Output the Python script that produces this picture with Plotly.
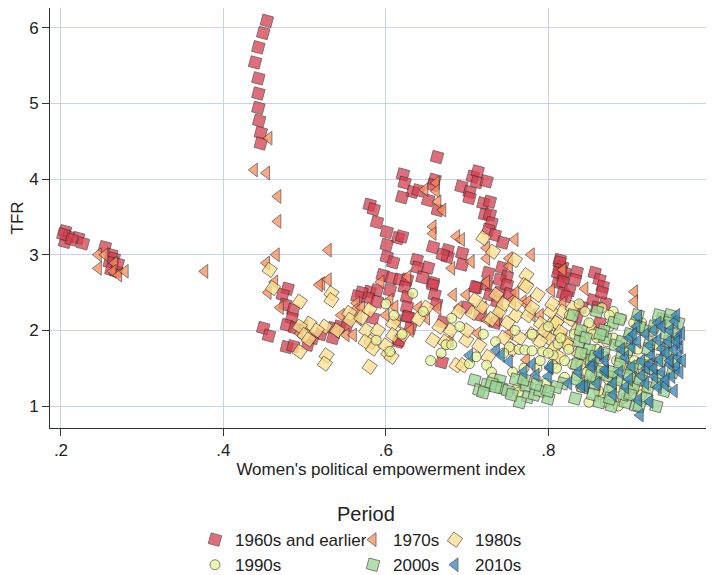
import plotly.graph_objects as go

# ---------------- data ----------------
periods = ["1960s and earlier", "1970s", "1980s", "1990s", "2000s", "2010s"]

x_1960s = [0.205, 0.209, 0.205, 0.221, 0.227, 0.203, 0.213,
           0.254, 0.262, 0.265, 0.260, 0.262, 0.268, 0.270,
           0.4535, 0.449, 0.443, 0.439, 0.443, 0.443, 0.443, 0.444, 0.446, 0.446,
           0.449, 0.456, 0.479, 0.473, 0.476, 0.486, 0.484, 0.478, 0.488, 0.478, 0.486, 0.504,
           0.535, 0.543, 0.552, 0.535, 0.520, 0.510,
           0.580, 0.585, 0.589, 0.601, 0.615, 0.601, 0.601, 0.609, 0.596, 0.607, 0.617,
           0.580, 0.589, 0.578, 0.589, 0.605, 0.626, 0.584, 0.615, 0.570, 0.565,
           0.663, 0.621, 0.623, 0.633, 0.620, 0.660, 0.658, 0.652, 0.664, 0.693, 0.703, 0.703,
           0.707, 0.713, 0.712, 0.724, 0.720, 0.728, 0.722, 0.728, 0.730, 0.726, 0.734, 0.744,
           0.658, 0.676, 0.676, 0.694, 0.694, 0.638, 0.639, 0.652, 0.658, 0.626, 0.620, 0.743,
           0.749, 0.740, 0.726, 0.712, 0.640, 0.670,
           0.623, 0.626, 0.626, 0.627, 0.630, 0.617, 0.658, 0.660, 0.662, 0.670, 0.710, 0.724,
           0.728, 0.740, 0.749, 0.752, 0.737, 0.669, 0.645, 0.700, 0.715, 0.735,
           0.814, 0.817, 0.818, 0.812, 0.814, 0.818, 0.814, 0.812, 0.820, 0.835, 0.818, 0.826,
           0.833, 0.857, 0.863, 0.867, 0.855, 0.870, 0.841, 0.835, 0.863, 0.866, 0.822, 0.860]
y_1960s = [3.31, 3.24, 3.17, 3.22, 3.15, 3.27, 3.20,
           3.10, 3.00, 2.95, 2.90, 2.80, 2.78, 2.88,
           6.09, 5.93, 5.74, 5.54, 5.33, 5.13, 4.94, 4.77, 4.61, 4.47,
           2.03, 1.93, 2.55, 2.47, 2.34, 2.27, 2.16, 2.07, 2.03, 1.78, 1.79, 1.81,
           2.03, 2.05, 2.07, 1.90, 1.95, 1.90,
           3.66, 3.60, 3.43, 3.30, 3.22, 3.13, 2.97, 2.90, 2.73, 2.69, 2.67,
           2.51, 2.53, 2.43, 2.38, 2.53, 2.18, 2.16, 1.85, 2.50, 2.45,
           4.29, 4.06, 3.95, 3.83, 3.76, 3.99, 3.92, 3.72, 3.59, 3.90, 3.83, 3.75,
           4.03, 4.10, 3.96, 3.97, 3.68, 3.70, 3.53, 3.53, 3.42, 3.33, 3.26, 3.16,
           3.10, 3.06, 2.97, 3.02, 2.87, 2.93, 2.83, 2.83, 2.63, 2.67, 3.24, 2.83,
           2.71, 2.67, 2.76, 2.57, 3.85, 3.00,
           2.57, 2.44, 2.31, 2.18, 2.03, 1.87, 2.60, 2.47, 2.35, 2.11, 2.57, 2.60,
           2.47, 2.50, 2.60, 2.48, 2.38, 1.58, 2.70, 2.30, 2.20, 2.10,
           2.93, 2.84, 2.71, 2.63, 2.90, 2.49, 2.80, 2.76, 2.76, 2.77, 2.64, 2.53,
           2.67, 2.76, 2.67, 2.58, 2.40, 2.36, 2.31, 2.18, 2.10, 2.50, 2.45, 2.30]

x_1970s = [0.246, 0.254, 0.246, 0.266, 0.264, 0.271, 0.279, 0.377,
           0.456, 0.438, 0.453, 0.467, 0.467, 0.465, 0.453, 0.463, 0.529, 0.521, 0.529, 0.518,
           0.564, 0.562, 0.566, 0.539, 0.551, 0.560, 0.494, 0.594, 0.605, 0.611, 0.600, 0.614,
           0.455, 0.470, 0.500, 0.545, 0.570,
           0.648, 0.662, 0.662, 0.664, 0.670, 0.658, 0.658, 0.687, 0.693, 0.724, 0.759, 0.779,
           0.752, 0.724, 0.705, 0.681, 0.752, 0.627, 0.724, 0.818,
           0.683, 0.699, 0.664, 0.650, 0.724, 0.736, 0.740, 0.713, 0.679, 0.752, 0.756, 0.769,
           0.775, 0.804, 0.773, 0.818, 0.906, 0.906, 0.830, 0.845, 0.790, 0.640, 0.630, 0.690,
           0.720, 0.780, 0.800, 0.760]
y_1970s = [3.00, 3.00, 2.82, 2.89, 2.78, 2.73, 2.78, 2.78,
           4.54, 4.12, 4.08, 3.77, 3.44, 3.00, 2.89, 2.64, 3.06, 2.62, 2.67, 2.60,
           2.36, 2.27, 2.15, 1.98, 1.94, 1.94, 1.96, 2.64, 2.40, 2.31, 2.20, 2.12,
           2.50, 2.30, 2.05, 2.20, 2.30,
           3.86, 3.95, 3.84, 3.70, 3.59, 3.37, 3.28, 3.24, 3.20, 3.09, 3.20, 3.00,
           2.95, 2.95, 2.91, 2.82, 2.85, 2.71, 2.64, 2.80,
           2.47, 2.47, 2.29, 2.16, 2.14, 2.14, 2.25, 1.96, 1.87, 1.96, 2.40, 2.38,
           2.38, 2.53, 1.61, 2.36, 2.51, 2.38, 2.20, 2.55, 2.20, 2.30, 2.00, 2.30,
           2.30, 2.20, 1.95, 2.50]

x_1980s = [0.457, 0.461, 0.494, 0.533, 0.533, 0.506, 0.494, 0.500, 0.505, 0.494, 0.525, 0.527,
           0.525, 0.555, 0.556, 0.580, 0.570, 0.576, 0.582, 0.575, 0.584, 0.580, 0.609, 0.609,
           0.621, 0.603, 0.607, 0.540, 0.515, 0.590, 0.600,
           0.720, 0.732, 0.759, 0.773, 0.771, 0.666, 0.658, 0.673, 0.687, 0.695, 0.699, 0.707,
           0.718, 0.736, 0.740, 0.726, 0.773, 0.787, 0.791, 0.805, 0.818, 0.814, 0.822, 0.800,
           0.640, 0.650, 0.680, 0.750, 0.760, 0.780, 0.795, 0.810, 0.765, 0.745,
           0.803, 0.810, 0.815, 0.820, 0.827, 0.835, 0.842, 0.806, 0.813, 0.825, 0.838, 0.850,
           0.830, 0.845, 0.860,
           0.700, 0.715, 0.730, 0.745, 0.760, 0.775, 0.790, 0.805, 0.780, 0.755, 0.690, 0.710]
y_1980s = [2.80, 2.56, 2.38, 2.49, 2.40, 2.09, 2.05, 1.94, 1.88, 1.72, 2.05, 1.67,
           1.56, 2.23, 2.14, 2.27, 2.17, 2.00, 1.85, 1.85, 1.76, 1.52, 2.09, 1.94,
           1.94, 1.70, 1.65, 2.00, 2.00, 2.00, 1.80,
           3.22, 3.04, 2.93, 2.73, 2.60, 2.05, 1.87, 1.85, 1.54, 1.54, 1.87, 2.23,
           2.31, 2.47, 2.25, 1.65, 2.58, 2.47, 2.09, 2.09, 2.25, 1.94, 1.83, 1.90,
           2.15, 2.30, 2.00, 2.10, 2.20, 1.95, 2.00, 2.10, 1.90, 2.35,
           2.25, 2.10, 1.98, 1.86, 2.15, 2.00, 1.90, 1.75, 1.65, 1.80, 1.70, 2.05,
           2.30, 1.60, 1.95,
           2.00, 1.80, 2.15, 1.90, 2.35, 2.20, 1.85, 2.35, 2.30, 1.75, 2.25, 2.40]

x_1990s = [0.588, 0.605, 0.633, 0.646, 0.681, 0.691, 0.674, 0.681, 0.711, 0.703, 0.724, 0.730,
           0.732, 0.759, 0.752, 0.764, 0.761, 0.763, 0.771, 0.780, 0.793, 0.806, 0.812, 0.820,
           0.600, 0.610, 0.620, 0.655, 0.668, 0.745, 0.735, 0.720, 0.786, 0.797, 0.805, 0.756,
           0.770,
           0.826, 0.832, 0.838, 0.845, 0.850, 0.855, 0.860, 0.866, 0.870, 0.875, 0.880, 0.886,
           0.890, 0.895, 0.900, 0.905, 0.910, 0.915, 0.920, 0.840, 0.848, 0.858, 0.865, 0.872,
           0.878, 0.884, 0.892, 0.898, 0.905, 0.912, 0.850, 0.862, 0.874, 0.886, 0.896, 0.906,
           0.916, 0.928, 0.935, 0.945, 0.952, 0.830, 0.870, 0.880,
           0.780, 0.790, 0.800, 0.810, 0.815, 0.825, 0.835, 0.845, 0.855, 0.865, 0.875, 0.885,
           0.895, 0.905, 0.915, 0.925, 0.770, 0.785, 0.800, 0.820, 0.840, 0.860, 0.880, 0.900]
y_1990s = [1.87, 1.72, 2.49, 2.25, 2.16, 2.05, 1.81, 1.81, 1.65, 1.56, 1.54, 1.45,
           1.37, 2.00, 1.78, 1.75, 1.23, 1.18, 1.74, 1.73, 1.72, 1.67, 1.82, 1.38,
           2.35, 2.20, 1.95, 1.60, 1.70, 1.70, 1.85, 1.95, 1.50, 1.30, 1.55, 1.45,
           1.30,
           2.20, 1.95, 2.35, 1.70, 2.10, 1.55, 1.90, 2.30, 1.65, 2.05, 1.40, 1.80,
           2.15, 1.50, 1.95, 1.30, 1.75, 2.10, 1.60, 1.25, 1.45, 1.35, 1.15, 1.85,
           1.25, 1.60, 1.10, 1.70, 1.45, 1.20, 1.05, 1.20, 1.35, 1.00, 1.30, 1.60,
           1.40, 2.00, 1.80, 2.15, 1.90, 1.55, 1.05, 2.25,
           1.95, 1.60, 2.05, 1.50, 1.90, 1.75, 1.40, 2.25, 1.95, 1.50, 2.20, 1.25,
           1.85, 2.10, 1.15, 1.55, 1.50, 1.35, 1.70, 1.60, 1.55, 1.75, 1.90, 1.20]

x_2000s = [0.709, 0.715, 0.724, 0.740, 0.742, 0.773, 0.775, 0.783, 0.818, 0.730, 0.750, 0.760,
           0.765, 0.790, 0.800, 0.810,
           0.830, 0.835, 0.840, 0.845, 0.850, 0.855, 0.860, 0.865, 0.870, 0.875, 0.880, 0.885,
           0.890, 0.895, 0.900, 0.905, 0.910, 0.915, 0.920, 0.925, 0.930, 0.935, 0.940, 0.945,
           0.950, 0.955, 0.960, 0.833, 0.843, 0.853, 0.863, 0.873, 0.883, 0.893, 0.903, 0.913,
           0.923, 0.933, 0.943, 0.953, 0.838, 0.858, 0.878, 0.898, 0.918, 0.938, 0.948, 0.868,
           0.888, 0.908,
           0.835, 0.846, 0.857, 0.868, 0.879, 0.890, 0.901, 0.912, 0.923, 0.934, 0.945, 0.956,
           0.840, 0.852, 0.864, 0.876, 0.888, 0.900, 0.912, 0.924, 0.936, 0.948,
           0.720, 0.735, 0.755, 0.770, 0.785, 0.800]
y_2000s = [1.34, 1.21, 1.28, 1.34, 1.24, 1.26, 1.12, 1.15, 1.30, 1.30, 1.20, 1.35,
           1.05, 1.20, 1.10, 1.25,
           2.20, 1.55, 2.00, 1.30, 1.75, 1.15, 2.25, 1.45, 1.90, 1.20, 2.10, 1.35,
           1.65, 1.05, 1.95, 1.25, 2.20, 1.55, 1.10, 1.85, 2.05, 1.40, 2.15, 1.70,
           2.20, 1.95, 2.10, 1.10, 1.25, 1.60, 1.05, 1.40, 1.80, 1.15, 1.50, 1.35,
           1.25, 1.00, 1.20, 1.45, 1.85, 1.30, 1.00, 1.75, 2.00, 1.60, 1.85, 1.70,
           1.55, 1.00,
           1.35, 1.90, 1.65, 2.00, 1.45, 1.85, 1.15, 2.05, 1.75, 1.30, 1.95, 1.60,
           1.70, 1.40, 1.95, 1.10, 2.15, 1.40, 1.00, 1.50, 2.20, 2.10,
           1.18, 1.25, 1.15, 1.35, 1.28, 1.20]

x_2010s = [0.703, 0.736, 0.742, 0.752, 0.785, 0.800, 0.802, 0.770, 0.780,
           0.911, 0.909, 0.935, 0.956, 0.958, 0.964, 0.940, 0.948, 0.962, 0.927, 0.937, 0.958,
           0.952, 0.931, 0.921, 0.903, 0.888, 0.870, 0.864, 0.855, 0.845, 0.903, 0.911, 0.925,
           0.913, 0.944, 0.960, 0.802, 0.837, 0.825, 0.841, 0.853, 0.862, 0.870, 0.950, 0.945,
           0.920, 0.930, 0.960, 0.940, 0.955, 0.965, 0.935, 0.925, 0.915, 0.895, 0.880, 0.900,
           0.950,
           0.895, 0.905, 0.915, 0.925, 0.935, 0.945, 0.955, 0.962, 0.890, 0.900, 0.910, 0.920,
           0.930, 0.940, 0.950, 0.958, 0.870, 0.880, 0.860]
y_2010s = [1.67, 1.74, 1.67, 1.59, 1.41, 1.39, 1.50, 1.45, 1.55,
           2.18, 2.05, 1.87, 2.12, 2.20, 1.96, 1.76, 1.85, 1.78, 1.67, 1.61, 1.52,
           1.39, 1.39, 1.50, 1.52, 1.45, 1.45, 1.67, 1.56, 1.26, 1.78, 1.08, 1.06,
           0.88, 1.28, 1.65, 1.52, 1.45, 1.30, 1.26, 1.52, 1.70, 1.48, 2.00, 1.70,
           1.95, 2.00, 1.90, 1.45, 1.20, 1.60, 1.25, 1.80, 1.60, 1.25, 1.30, 1.90,
           1.55,
           1.65, 1.95, 1.40, 1.55, 2.10, 1.35, 1.75, 1.45, 1.75, 1.35, 1.85, 1.30,
           1.50, 2.05, 1.60, 1.85, 1.60, 1.15, 1.30]

x_tickvals = [0.2, 0.4, 0.6, 0.8, 1.0]
x_ticktext = [".2", ".4", ".6", ".8", "1"]
y_tickvals = [1, 2, 3, 4, 5, 6]

# ---------------- styling ----------------
colors = ["#d53e4f", "#fc8d59", "#fee08b", "#e6f598", "#99d594", "#3288bd"]
symbols = ["square", "triangle-left", "square", "circle", "square", "triangle-left"]
angles = [15, 0, 35, 0, 15, 0]
sizes = [11, 12, 11, 10, 11, 12]
legends = ["legend", "legend2", "legend3", "legend", "legend2", "legend3"]

xs = [x_1960s, x_1970s, x_1980s, x_1990s, x_2000s, x_2010s]
ys = [y_1960s, y_1970s, y_1980s, y_1990s, y_2000s, y_2010s]

fig = go.Figure()
for i, name in enumerate(periods):
    fig.add_trace(go.Scatter(
        x=xs[i], y=ys[i], mode="markers", name=name, legend=legends[i],
        marker=dict(symbol=symbols[i], angle=angles[i], size=sizes[i],
                    color=colors[i], opacity=0.75,
                    line=dict(color="#3a2a2a", width=0.8)),
    ))

font_family = "Liberation Sans, Arial, sans-serif"
grid = "#c6d3ea"

# the page body adds an 8px offset; the figure is sized so the plot lands
# at the same screen position as in the reference
leg_common = dict(orientation="v", yanchor="top", xanchor="left",
                  font=dict(family=font_family, size=17, color="#222"),
                  bgcolor="rgba(0,0,0,0)", borderwidth=0, tracegroupgap=0,
                  itemwidth=30, y=-0.224)

fig.update_layout(
    width=706, height=567,
    margin=dict(l=42, r=2, t=0, b=147, autoexpand=False),
    paper_bgcolor="white", plot_bgcolor="white",
    font=dict(family=font_family, size=17, color="#222"),
    showlegend=True,
    legend=dict(**leg_common, x=(195 - 50) / 662),
    legend2=dict(**leg_common, x=(353 - 50) / 662),
    legend3=dict(**leg_common, x=(435 - 50) / 662),
    xaxis=dict(range=[0.1865, 1.0015], tickvals=x_tickvals, ticktext=x_ticktext,
               automargin=False, ticklabeloverflow="allow",
               showgrid=True, gridcolor=grid, gridwidth=1, zeroline=False,
               showline=True, linecolor="#333", linewidth=1,
               ticks="outside", ticklen=7, tickcolor="#333",
               tickfont=dict(size=17),
               title=dict(text="Women's political empowerment index", standoff=0,
                          font=dict(size=17))),
    yaxis=dict(range=[0.71, 6.26], tickvals=y_tickvals, automargin=False,
               showgrid=True, gridcolor=grid, gridwidth=1, zeroline=False,
               showline=True, linecolor="#333", linewidth=1,
               ticks="outside", ticklen=7, tickcolor="#333",
               tickfont=dict(size=17),
               title=dict(text="TFR", standoff=1, font=dict(size=17))),
    annotations=[dict(text="Period", x=(366 - 50) / 662, y=-0.236, xref="paper", yref="paper",
                      xanchor="center", yanchor="bottom", showarrow=False,
                      font=dict(size=20, color="#222", family=font_family))],
)

fig.write_html("out.html")
